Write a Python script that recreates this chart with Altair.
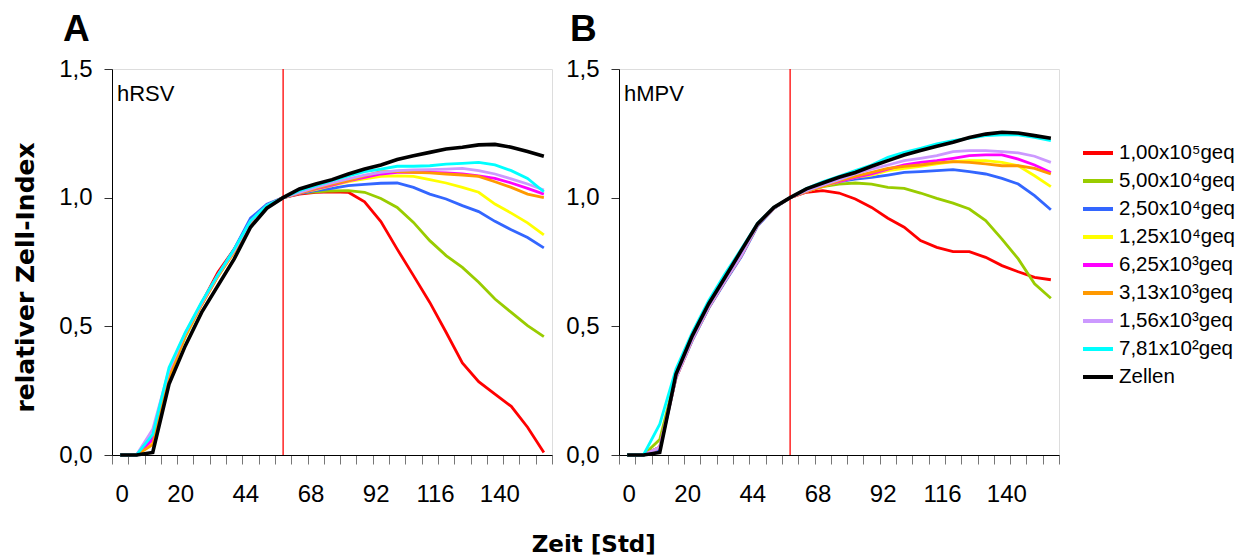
import altair as alt
import pandas as pd

# ---------------- data ----------------
times = [0, 5, 10, 15, 20, 26, 32, 38, 44, 50, 56, 62, 68, 74, 80, 86, 92, 98,
         104, 110, 116, 122, 128, 134, 140, 146, 152]
tick_labels = [0, 20, 44, 68, 92, 116, 140]
infection_time = 56

series_names = ["1,00x10⁵geq", "5,00x10⁴geq", "2,50x10⁴geq", "1,25x10⁴geq",
                "6,25x10³geq", "3,13x10³geq", "1,56x10³geq", "7,81x10²geq", "Zellen"]
series_colors = ["#FF0000", "#99CC00", "#3366FF", "#FFFF00", "#FF00FF",
                 "#FF9900", "#CC99FF", "#00FFFF", "#000000"]

# Panel A (hRSV)
red_A = [0, 0, 0.05, 0.32, 0.47, 0.59, 0.71, 0.80, 0.91, 0.97, 1.0, 1.014, 1.021, 1.023, 1.021,
         0.984, 0.907, 0.80, 0.697, 0.593, 0.477, 0.358, 0.285, 0.237, 0.189, 0.108, 0.01]
green_A = [0, 0, 0.05, 0.31, 0.46, 0.585, 0.695, 0.79, 0.905, 0.968, 1.0, 1.018, 1.023, 1.026, 1.027,
           1.021, 0.997, 0.962, 0.904, 0.833, 0.775, 0.729, 0.671, 0.606, 0.554, 0.503, 0.46]
blue_A = [0, 0, 0.07, 0.32, 0.47, 0.59, 0.70, 0.80, 0.92, 0.975, 1.0, 1.017, 1.027, 1.036, 1.047,
          1.052, 1.056, 1.057, 1.04, 1.014, 0.995, 0.969, 0.946, 0.908, 0.875, 0.845, 0.805]
yellow_A = [0, 0, 0.05, 0.31, 0.465, 0.585, 0.695, 0.79, 0.905, 0.968, 1.0, 1.02, 1.031, 1.047, 1.062,
            1.073, 1.083, 1.085, 1.083, 1.07, 1.057, 1.04, 1.021, 0.975, 0.94, 0.902, 0.855]
magenta_A = [0, 0, 0.06, 0.315, 0.47, 0.587, 0.697, 0.794, 0.907, 0.969, 1.0, 1.018, 1.034, 1.049, 1.065,
             1.079, 1.092, 1.098, 1.098, 1.098, 1.096, 1.092, 1.085, 1.075, 1.057, 1.036, 1.014]
orange_A = [0, 0, 0.04, 0.30, 0.465, 0.585, 0.695, 0.79, 0.905, 0.968, 1.0, 1.018, 1.036, 1.053, 1.066,
            1.085, 1.101, 1.101, 1.098, 1.096, 1.092, 1.088, 1.083, 1.062, 1.04, 1.014, 1.0]
lavender_A = [0, 0, 0.10, 0.33, 0.475, 0.59, 0.70, 0.795, 0.907, 0.969, 1.0, 1.02, 1.04, 1.057, 1.073,
              1.088, 1.098, 1.105, 1.108, 1.109, 1.111, 1.114, 1.105, 1.092, 1.073, 1.053, 1.03]
cyan_A = [0, 0, 0.08, 0.34, 0.477, 0.595, 0.70, 0.80, 0.91, 0.97, 1.0, 1.027, 1.047, 1.066, 1.085,
          1.101, 1.111, 1.122, 1.122, 1.124, 1.13, 1.133, 1.137, 1.127, 1.105, 1.075, 1.023]
black_A = [0, 0, 0.01, 0.276, 0.425, 0.554, 0.658, 0.762, 0.885, 0.959, 1.0, 1.034, 1.053, 1.07, 1.092,
           1.111, 1.127, 1.148, 1.163, 1.176, 1.189, 1.196, 1.205, 1.207, 1.196, 1.179, 1.161]

# Panel B (hMPV)
red_B = [0, 0, 0.03, 0.305, 0.45, 0.574, 0.677, 0.775, 0.894, 0.96, 1.0, 1.021, 1.027, 1.018, 0.995,
         0.962, 0.92, 0.885, 0.833, 0.807, 0.79, 0.79, 0.768, 0.736, 0.712, 0.69, 0.681]
green_B = [0, 0, 0.06, 0.31, 0.45, 0.574, 0.677, 0.775, 0.894, 0.96, 1.0, 1.027, 1.043, 1.053, 1.057,
           1.053, 1.04, 1.036, 1.018, 0.997, 0.979, 0.956, 0.911, 0.839, 0.762, 0.665, 0.609]
blue_B = [0, 0, 0.02, 0.30, 0.445, 0.57, 0.672, 0.77, 0.89, 0.958, 1.0, 1.024, 1.045, 1.062, 1.072,
          1.079, 1.088, 1.098, 1.101, 1.105, 1.109, 1.101, 1.092, 1.075, 1.053, 1.008, 0.953]
yellow_B = [0, 0, 0.03, 0.30, 0.45, 0.574, 0.677, 0.775, 0.894, 0.96, 1.0, 1.024, 1.044, 1.062, 1.079,
            1.088, 1.105, 1.114, 1.122, 1.131, 1.14, 1.144, 1.144, 1.137, 1.124, 1.085, 1.043]
magenta_B = [0, 0, 0.03, 0.30, 0.45, 0.574, 0.677, 0.775, 0.894, 0.96, 1.0, 1.024, 1.047, 1.062, 1.079,
             1.092, 1.111, 1.127, 1.137, 1.144, 1.153, 1.163, 1.166, 1.166, 1.150, 1.127, 1.098]
orange_B = [0, 0, 0.03, 0.30, 0.45, 0.574, 0.677, 0.775, 0.894, 0.96, 1.0, 1.024, 1.044, 1.066, 1.083,
            1.098, 1.114, 1.122, 1.127, 1.135, 1.14, 1.137, 1.131, 1.124, 1.124, 1.114, 1.092]
lavender_B = [0, 0, 0.03, 0.30, 0.45, 0.574, 0.677, 0.775, 0.894, 0.96, 1.0, 1.027, 1.049, 1.07, 1.092,
              1.111, 1.127, 1.144, 1.153, 1.163, 1.179, 1.183, 1.183, 1.179, 1.174, 1.161, 1.137]
cyan_B = [0, 0, 0.12, 0.334, 0.477, 0.60, 0.703, 0.80, 0.90, 0.962, 1.0, 1.036, 1.062, 1.083, 1.105,
          1.127, 1.157, 1.176, 1.192, 1.209, 1.222, 1.231, 1.241, 1.244, 1.244, 1.234, 1.222]
black_B = [0, 0, 0.01, 0.315, 0.464, 0.587, 0.69, 0.794, 0.898, 0.962, 1.0, 1.034, 1.057, 1.079, 1.098,
           1.122, 1.144, 1.166, 1.183, 1.2, 1.215, 1.234, 1.247, 1.254, 1.251, 1.241, 1.231]

panel_A = [red_A, green_A, blue_A, yellow_A, magenta_A, orange_A, lavender_A, cyan_A, black_A]
panel_B = [red_B, green_B, blue_B, yellow_B, magenta_B, orange_B, lavender_B, cyan_B, black_B]


def to_frame(series_list):
    rows = []
    for order, (name, vals) in enumerate(zip(series_names, series_list)):
        for t, v in zip(times, vals):
            rows.append({"series": name, "order": order, "t": t, "v": v})
    return pd.DataFrame(rows)


FONT = "Liberation Sans"
PW, PH = 440, 386
label_expr_x = "indexof([" + ",".join(str(v) for v in tick_labels) + "], datum.value) >= 0 ? datum.label : ''"
label_expr_y = "replace(format(datum.value, '.1f'), '.', ',')"


def make_panel(series_list, letter, virus, first):
    df = to_frame(series_list)
    xscale = alt.Scale(type="band", domain=times, paddingInner=0, paddingOuter=0)
    x = alt.X("t:O", bandPosition=0.5, scale=xscale,
              axis=alt.Axis(title=None, tickBand="extent", labelExpr=label_expr_x, labelAngle=0,
                            labelFontSize=24, labelFont=FONT, labelColor="#000", labelPadding=30,
                            labelOffset=PW / len(times) / 2,
                            tickSize=9, tickColor="#777777", domainColor="#000000",
                            labelOverlap=False, grid=False))
    common = dict(values=[0, 0.5, 1.0, 1.5], labelExpr=label_expr_y, labelFontSize=24, labelFont=FONT,
                  labelColor="#000", labelPadding=12, tickSize=8, tickColor="#333333",
                  domainColor="#000000", grid=False)
    if first:
        yaxis = alt.Axis(title="relativer Zell-Index", titleFont="DejaVu Sans", titleFontSize=25,
                         titleFontWeight="bold", titleColor="#000", titleX=-74, titleY=208, **common)
    else:
        yaxis = alt.Axis(title=None, **common)
    y = alt.Y("v:Q", scale=alt.Scale(domain=[0, 1.5], nice=False), axis=yaxis)

    color = alt.Color("series:N", scale=alt.Scale(domain=series_names, range=series_colors),
                      sort=series_names,
                      legend=alt.Legend(title=None, orient="none", legendX=969, legendY=70,
                                        symbolType="stroke", symbolSize=900, symbolStrokeWidth=4,
                                        labelFontSize=20.5, labelFont=FONT, labelColor="#000",
                                        labelOffset=4, rowPadding=0, clipHeight=28, labelLimit=300))

    lines = alt.Chart(df).mark_line().encode(
        x=x, y=y, color=color, order="order:Q",
        strokeWidth=alt.condition(alt.datum.series == "Zellen", alt.value(3.6), alt.value(2.8)),
    )
    rule_df = pd.DataFrame({"t": [infection_time], "y0": [0.0], "y1": [1.5]})
    rule = alt.Chart(rule_df).mark_rule(color="#FF0000", strokeWidth=1.3).encode(
        x=alt.X("t:O", bandPosition=0.5, scale=xscale),
        y="y0:Q", y2="y1:Q",
    )
    label_df = pd.DataFrame({"txt": [virus]})
    label = alt.Chart(label_df).mark_text(align="left", baseline="middle", fontSize=22, font=FONT,
                                          color="#000").encode(
        text="txt:N", x=alt.value(5), y=alt.value(25))

    return alt.layer(rule, lines, label).properties(
        width=PW, height=PH,
        title=alt.TitleParams(letter, anchor="start", frame="group", dx=-49, fontSize=37, font=FONT,
                              fontWeight="bold", color="#000", offset=8),
    )


chart = alt.hconcat(
    make_panel(panel_A, "A", "hRSV", True),
    make_panel(panel_B, "B", "hMPV", False),
    spacing=12,
).properties(
    title=alt.TitleParams("Zeit [Std]", orient="bottom", anchor="middle", font="DejaVu Sans",
                          fontSize=23, fontWeight="bold", color="#000", dx=-30, offset=27),
    padding={"left": 4, "top": 2, "right": 0, "bottom": 0},
).configure_view(stroke=None).configure(background="white")

chart.save("out.html", embed_options={"renderer": "svg", "actions": False})
